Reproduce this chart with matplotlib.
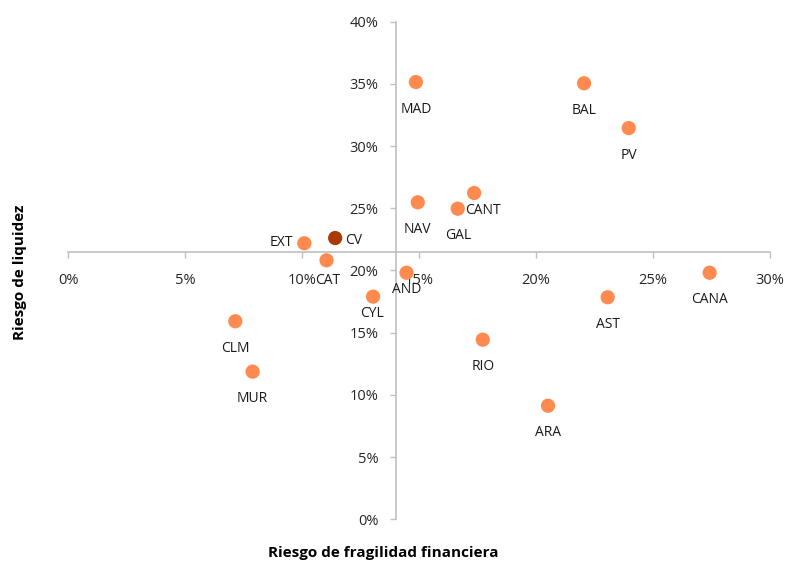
import matplotlib.pyplot as plt
from matplotlib.ticker import PercentFormatter, MultipleLocator

plt.rcParams['font.family'] = ['Open Sans', 'DejaVu Sans']

# datos: comunidades autónomas (riesgo de fragilidad financiera, riesgo de liquidez)
regiones = ['MAD', 'BAL', 'PV', 'NAV', 'CANT', 'GAL', 'EXT', 'CV', 'CAT',
            'AND', 'CYL', 'CANA', 'AST', 'RIO', 'ARA', 'CLM', 'MUR']
fragilidad = [0.1486, 0.2205, 0.2396, 0.1494, 0.1735, 0.1665, 0.1009, 0.1141, 0.1104,
              0.1446, 0.1303, 0.2742, 0.2306, 0.1772, 0.2051, 0.0714, 0.0788]
liquidez = [0.3515, 0.3505, 0.3145, 0.2548, 0.2623, 0.2497, 0.2219, 0.2261, 0.2082,
            0.1982, 0.1790, 0.1982, 0.1785, 0.1444, 0.0913, 0.1592, 0.1187]
destacada = 'CV'

# cruce de ejes (medias)
cruce_x = 0.140
cruce_y = 0.2146

# posición de etiquetas (px respecto al punto)
desplaz = {'EXT': (-11, 1, 'right'), 'CV': (10, -2, 'left'), 'CANT': (9, -18, 'center'),
           'AND': (0, -16.6, 'center'), 'CAT': (1, -20, 'center'), 'CYL': (-1.5, -16.6, 'center')}

naranja = '#FF8A50'
granate = '#A93A06'
gris = '#BFBFBF'

fig = plt.figure(figsize=(7.86, 5.62), dpi=100)
ax = fig.add_axes([68.3 / 786, (562 - 519.3) / 562, 701.7 / 786, 497.6 / 562])

colores = [granate if r == destacada else naranja for r in regiones]
ax.scatter(fragilidad, liquidez, s=105, c=colores, edgecolors='none', zorder=3)

px2pt = 72 / 100
for r, fx, ly in zip(regiones, fragilidad, liquidez):
    dx, dy, ha = desplaz.get(r, (0, -27, 'center'))
    ax.annotate(r, (fx, ly), xytext=(dx * px2pt, dy * px2pt), textcoords='offset points',
                ha=ha, va='center', fontsize=10, color='#1a1a1a')

ax.set_xlim(0, 0.30)
ax.set_ylim(0, 0.40)
ax.xaxis.set_major_locator(MultipleLocator(0.05))
ax.yaxis.set_major_locator(MultipleLocator(0.05))
ax.xaxis.set_major_formatter(PercentFormatter(1.0, decimals=0))
ax.yaxis.set_major_formatter(PercentFormatter(1.0, decimals=0))

ax.spines['left'].set_position(('data', cruce_x))
ax.spines['bottom'].set_position(('data', cruce_y))
ax.spines['top'].set_visible(False)
ax.spines['right'].set_visible(False)
for s in ('left', 'bottom'):
    ax.spines[s].set_color(gris)
    ax.spines[s].set_linewidth(1.2)

ax.tick_params(axis='x', direction='out', length=4, width=1, color=gris, pad=11,
               labelsize=10.5, labelcolor='#262626')
ax.tick_params(axis='y', direction='out', length=4, width=1, color=gris, pad=8.5,
               labelsize=10.5, labelcolor='#262626')

fig.text(383 / 786, 1 - 553 / 562, 'Riesgo de fragilidad financiera', ha='center', va='center',
         fontsize=11, fontweight='bold', color='#000000')
fig.text(20 / 786, 1 - 272 / 562, 'Riesgo de liquidez', ha='center', va='center', rotation=90,
         fontsize=11, fontweight='bold', color='#000000')

fig.savefig('out.png', dpi=100)
